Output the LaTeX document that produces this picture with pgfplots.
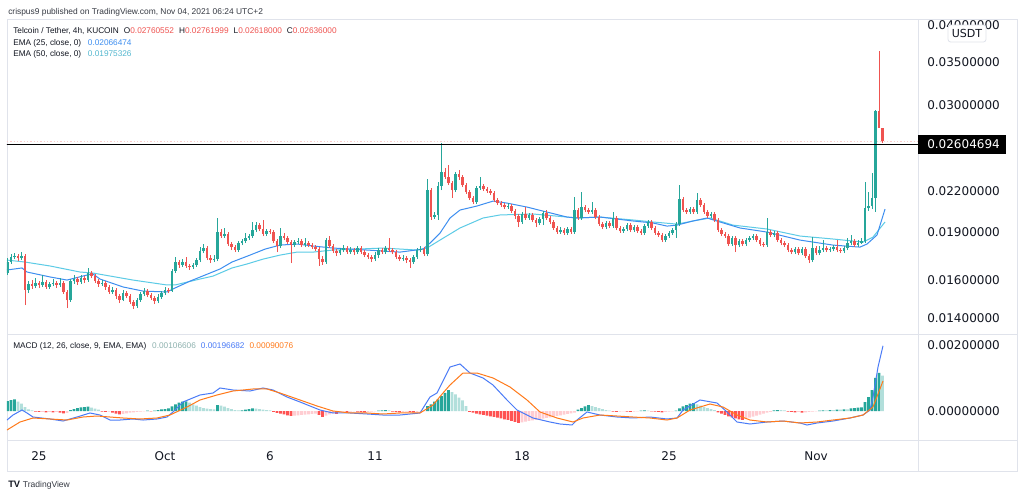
\documentclass[border=0pt]{standalone}
\usepackage{fontspec}
\setmainfont{Liberation Sans}
\newfontfamily\dejavu{DejaVu Sans}
\usepackage{pgfplots}
\pgfplotsset{compat=1.18}
\usepackage{pgfplotstable}
\definecolor{cgreen}{HTML}{26A69A}
\definecolor{cred}{HTML}{EF5350}
\definecolor{hdg}{HTML}{26A69A}
\definecolor{hlg}{HTML}{B2DFDB}
\definecolor{hrd}{HTML}{FF5252}
\definecolor{hpk}{HTML}{FFCDD2}
\definecolor{macdc}{HTML}{4A7BF7}
\definecolor{sigc}{HTML}{FF7A1A}
\definecolor{ema1}{HTML}{3D8EF0}
\definecolor{ema2}{HTML}{5CCBE6}
\definecolor{framec}{HTML}{E0E3EB}
\definecolor{tvtext}{HTML}{131722}
\newcommand\tickfont{\dejavu\fontsize{9}{10}\selectfont}
\newcommand\legfont{\fontsize{6.2}{7}\selectfont}

\pgfplotstableread{
k o h l c
-9 .01643 .01733 .01631 .01709
-8 .01709 .01758 .01697 .01740
-7 .01740 .01765 .01727 .01746
-6 .01746 .01758 .01715 .01733
-5 .01733 .01771 .01721 .01746
-4 .01746 .01758 .01465 .01546
-3 .01546 .01596 .01529 .01580
-2 .01580 .01602 .01552 .01568
-1 .01568 .01614 .01557 .01585
0 .01585 .01596 .01557 .01574
1 .01574 .01631 .01563 .01591
2 .01591 .01602 .01552 .01563
3 .01563 .01591 .01552 .01580
4 .01580 .01608 .01568 .01585
5 .01585 .01596 .01557 .01574
6 .01574 .01614 .01563 .01585
7 .01585 .01596 .01524 .01535
8 .01535 .01546 .01449 .01491
9 .01491 .01608 .01481 .01596
10 .01596 .01631 .01580 .01608
11 .01608 .01620 .01574 .01591
12 .01591 .01631 .01580 .01614
13 .01614 .01625 .01585 .01602
14 .01602 .01673 .01591 .01643
15 .01643 .01655 .01614 .01625
16 .01625 .01637 .01585 .01596
17 .01596 .01608 .01563 .01580
18 .01580 .01602 .01568 .01585
19 .01585 .01596 .01546 .01563
20 .01563 .01574 .01524 .01535
21 .01535 .01563 .01524 .01546
22 .01546 .01557 .01496 .01513
23 .01513 .01524 .01475 .01491
24 .01491 .01546 .01486 .01529
25 .01529 .01540 .01502 .01513
26 .01513 .01524 .01470 .01481
27 .01481 .01491 .01444 .01460
28 .01460 .01502 .01449 .01491
29 .01491 .01535 .01481 .01524
30 .01524 .01557 .01513 .01540
31 .01540 .01552 .01507 .01518
32 .01518 .01529 .01491 .01502
33 .01502 .01513 .01470 .01486
34 .01486 .01524 .01475 .01507
35 .01507 .01540 .01496 .01529
36 .01529 .01563 .01518 .01546
37 .01546 .01557 .01529 .01540
38 .01540 .01667 .01535 .01655
39 .01655 .01740 .01643 .01709
40 .01709 .01721 .01673 .01691
41 .01691 .01727 .01679 .01709
42 .01709 .01740 .01673 .01685
43 .01685 .01697 .01661 .01679
44 .01679 .01703 .01667 .01691
45 .01691 .01733 .01679 .01721
46 .01721 .01803 .01709 .01778
47 .01778 .01823 .01765 .01797
48 .01797 .01810 .01721 .01733
49 .01733 .01752 .01703 .01721
50 .01721 .01752 .01709 .01727
51 .01727 .02001 .01715 .01903
52 .01903 .01924 .01863 .01876
53 .01876 .01931 .01863 .01890
54 .01890 .01903 .01810 .01823
55 .01823 .01836 .01784 .01803
56 .01803 .01816 .01771 .01784
57 .01784 .01842 .01771 .01829
58 .01829 .01856 .01816 .01842
59 .01842 .01897 .01829 .01863
60 .01863 .01890 .01849 .01876
61 .01876 .01973 .01863 .01917
62 .01917 .01973 .01903 .01951
63 .01951 .01965 .01910 .01924
64 .01924 .01987 .01876 .01890
65 .01890 .01924 .01876 .01910
66 .01910 .01924 .01890 .01903
67 .01903 .01917 .01829 .01842
68 .01842 .01856 .01771 .01810
69 .01810 .01931 .01797 .01876
70 .01876 .01897 .01849 .01863
71 .01863 .01876 .01823 .01836
72 .01836 .01849 .01703 .01816
73 .01816 .01849 .01803 .01836
74 .01836 .01863 .01823 .01842
75 .01842 .01856 .01803 .01816
76 .01816 .01863 .01803 .01829
77 .01829 .01842 .01803 .01816
78 .01816 .01829 .01790 .01803
79 .01803 .01816 .01778 .01790
80 .01790 .01803 .01685 .01727
81 .01727 .01746 .01691 .01709
82 .01709 .01863 .01697 .01849
83 .01849 .01876 .01797 .01810
84 .01810 .01823 .01765 .01778
85 .01778 .01790 .01746 .01765
86 .01765 .01797 .01752 .01784
87 .01784 .01816 .01771 .01797
88 .01797 .01810 .01758 .01771
89 .01771 .01803 .01758 .01784
90 .01784 .01797 .01752 .01771
91 .01771 .01810 .01758 .01797
92 .01797 .01810 .01758 .01771
93 .01771 .01784 .01740 .01752
94 .01752 .01765 .01727 .01740
95 .01740 .01752 .01709 .01727
96 .01727 .01771 .01715 .01752
97 .01752 .01797 .01733 .01784
98 .01784 .01797 .01758 .01771
99 .01771 .01810 .01758 .01797
100 .01797 .01863 .01771 .01784
101 .01784 .01797 .01758 .01771
102 .01771 .01784 .01727 .01740
103 .01740 .01752 .01715 .01727
104 .01727 .01752 .01715 .01733
105 .01733 .01746 .01703 .01721
106 .01721 .01733 .01673 .01709
107 .01709 .01752 .01697 .01740
108 .01740 .01797 .01727 .01784
109 .01784 .01810 .01771 .01790
110 .01790 .01803 .01746 .01758
111 .01758 .02301 .01746 .02212
112 .02212 .02228 .01987 .02009
113 .02009 .02045 .01994 .02023
114 .02023 .02277 .01987 .02244
115 .02244 .02618 .02212 .02360
116 .02360 .02394 .02301 .02318
117 .02318 .02420 .02252 .02268
118 .02268 .02285 .02150 .02212
119 .02212 .02360 .02196 .02343
120 .02343 .02377 .02293 .02318
121 .02318 .02334 .02236 .02252
122 .02252 .02268 .02181 .02196
123 .02196 .02212 .02134 .02150
124 .02150 .02165 .02104 .02119
125 .02119 .02244 .02104 .02228
126 .02228 .02318 .02212 .02244
127 .02244 .02260 .02204 .02220
128 .02220 .02236 .02189 .02204
129 .02204 .02220 .02173 .02189
130 .02189 .02204 .02119 .02134
131 .02134 .02150 .02096 .02111
132 .02111 .02126 .02081 .02096
133 .02096 .02111 .02066 .02081
134 .02081 .02111 .02066 .02089
135 .02089 .02104 .02037 .02052
136 .02052 .02066 .01994 .02016
137 .02016 .02030 .01937 .01973
138 .01973 .02045 .01958 .02030
139 .02030 .02081 .01987 .02001
140 .02001 .02037 .01987 .02023
141 .02023 .02037 .01973 .01987
142 .01987 .02001 .01937 .01965
143 .01965 .02009 .01951 .01994
144 .01994 .02052 .01951 .02037
145 .02037 .02059 .01987 .02001
146 .02001 .02016 .01958 .01973
147 .01973 .01987 .01917 .01931
148 .01931 .01944 .01890 .01903
149 .01903 .01937 .01890 .01917
150 .01917 .01931 .01883 .01897
151 .01897 .01937 .01883 .01924
152 .01924 .01937 .01890 .01903
153 .01903 .02157 .01890 .02059
154 .02059 .02074 .01987 .02001
155 .02001 .02196 .01987 .02081
156 .02081 .02096 .02045 .02059
157 .02059 .02074 .02030 .02045
158 .02045 .02119 .02030 .02059
159 .02059 .02074 .01994 .02009
160 .02009 .02023 .01944 .01958
161 .01958 .01973 .01924 .01937
162 .01937 .01980 .01924 .01965
163 .01965 .01980 .01931 .01944
164 .01944 .02045 .01931 .02001
165 .02001 .02016 .01917 .01931
166 .01931 .01944 .01897 .01910
167 .01910 .01937 .01897 .01924
168 .01924 .01965 .01910 .01951
169 .01951 .01965 .01903 .01917
170 .01917 .01951 .01903 .01937
171 .01937 .01951 .01897 .01910
172 .01910 .01924 .01883 .01897
173 .01897 .01958 .01883 .01944
174 .01944 .01987 .01931 .01973
175 .01973 .01987 .01917 .01931
176 .01931 .01944 .01883 .01897
177 .01897 .01910 .01869 .01883
178 .01883 .01897 .01836 .01849
179 .01849 .01890 .01836 .01876
180 .01876 .01910 .01863 .01897
181 .01897 .01931 .01883 .01917
182 .01917 .01973 .01863 .01958
183 .01958 .02252 .01944 .02142
184 .02142 .02157 .02045 .02059
185 .02059 .02074 .02030 .02045
186 .02045 .02081 .02030 .02066
187 .02066 .02081 .02030 .02045
188 .02045 .02189 .02030 .02134
189 .02134 .02150 .02081 .02096
190 .02096 .02111 .02030 .02045
191 .02045 .02059 .02001 .02016
192 .02016 .02045 .02001 .02030
193 .02030 .02045 .01973 .01987
194 .01987 .02001 .01903 .01917
195 .01917 .01931 .01876 .01890
196 .01890 .01903 .01863 .01876
197 .01876 .01890 .01810 .01823
198 .01823 .01876 .01810 .01863
199 .01863 .01876 .01771 .01816
200 .01816 .01856 .01803 .01842
201 .01842 .01856 .01810 .01823
202 .01823 .01863 .01810 .01849
203 .01849 .01876 .01836 .01863
204 .01863 .01890 .01849 .01876
205 .01876 .01890 .01836 .01849
206 .01849 .01863 .01810 .01823
207 .01823 .01836 .01803 .01816
208 .01816 .02001 .01803 .01903
209 .01903 .01917 .01869 .01883
210 .01883 .01910 .01869 .01897
211 .01897 .01910 .01836 .01849
212 .01849 .01863 .01816 .01829
213 .01829 .01842 .01803 .01816
214 .01816 .01829 .01771 .01784
215 .01784 .01797 .01758 .01771
216 .01771 .01803 .01758 .01790
217 .01790 .01803 .01752 .01765
218 .01765 .01803 .01752 .01790
219 .01790 .01803 .01733 .01746
220 .01746 .01758 .01703 .01721
221 .01721 .01869 .01709 .01797
222 .01797 .01810 .01752 .01765
223 .01765 .01810 .01752 .01784
224 .01784 .01849 .01771 .01797
225 .01797 .01810 .01771 .01784
226 .01784 .01803 .01771 .01790
227 .01790 .01816 .01778 .01803
228 .01803 .01849 .01771 .01784
229 .01784 .01797 .01765 .01778
230 .01778 .01810 .01765 .01797
231 .01797 .01863 .01784 .01829
232 .01829 .01883 .01816 .01842
233 .01842 .01856 .01803 .01816
234 .01816 .01849 .01803 .01829
235 .01829 .01863 .01823 .01842
236 .01842 .02277 .01829 .02074
237 .02074 .02196 .02052 .02089
238 .02089 .02351 .02066 .02150
239 .02150 .02947 .02045 .02936
240 .02936 .03641 .02915 .02763
241 .02760552 .02761999 .02618 .02636
}\candles

\pgfplotstableread{
k v s
-9 0.00030 1
-8 0.00033 1
-7 0.00035 1
-6 0.00028 2
-5 0.00022 2
-4 0.00012 2
-3 0.00005 2
-2 0.00002 2
-1 -0.00002 3
0 -0.00003 3
1 -0.00003 4
2 -0.00004 3
3 -0.00003 4
4 -0.00004 3
5 -0.00003 4
6 -0.00005 3
7 -0.00007 3
8 -0.00006 4
9 0.00003 1
10 0.00006 1
11 0.00009 1
12 0.00011 1
13 0.00012 1
14 0.00013 1
15 0.00010 2
16 0.00007 2
17 0.00004 2
18 -0.00002 3
19 -0.00003 3
20 -0.00002 4
21 -0.00005 3
22 -0.00008 3
23 -0.00010 3
24 -0.00009 4
25 -0.00007 4
26 -0.00005 4
27 -0.00004 4
28 -0.00003 4
29 -0.00002 4
30 -0.00001 4
31 0.00001 1
32 -0.00001 3
33 0.00001 1
34 0.00003 1
35 0.00005 1
36 0.00006 1
37 0.00008 1
38 0.00014 1
39 0.00020 1
40 0.00025 1
41 0.00028 1
42 0.00029 1
43 0.00025 2
44 0.00020 2
45 0.00016 2
46 0.00012 2
47 0.00009 2
48 0.00007 2
49 0.00006 2
50 0.00005 2
51 0.00018 1
52 0.00016 2
53 0.00013 2
54 0.00009 2
55 0.00006 2
56 0.00003 2
57 0.00002 2
58 0.00002 1
59 0.00004 1
60 0.00006 1
61 0.00008 1
62 0.00007 2
63 0.00006 2
64 0.00004 2
65 0.00003 2
66 0.00002 2
67 -0.00003 3
68 -0.00006 3
69 -0.00008 3
70 -0.00010 3
71 -0.00013 3
72 -0.00015 3
73 -0.00014 4
74 -0.00013 4
75 -0.00012 4
76 -0.00011 4
77 -0.00010 4
78 -0.00009 4
79 -0.00008 4
80 -0.00012 3
81 -0.00018 3
82 -0.00014 4
83 -0.00010 4
84 -0.00008 4
85 -0.00009 3
86 -0.00003 4
87 -0.00002 4
88 -0.00003 3
89 -0.00002 4
90 -0.00001 4
91 -0.00002 3
92 -0.00003 3
93 -0.00004 3
94 -0.00003 4
95 -0.00002 4
96 -0.00001 4
97 0.00001 1
98 0.00002 1
99 0.00003 1
100 0.00002 2
101 -0.00002 3
102 -0.00003 3
103 -0.00004 3
104 -0.00003 4
105 -0.00002 4
106 -0.00003 3
107 -0.00004 3
108 -0.00003 4
109 -0.00001 4
110 -0.00001 4
111 0.00015 1
112 0.00020 1
113 0.00028 1
114 0.00035 1
115 0.00045 1
116 0.00055 1
117 0.00063 1
118 0.00057 2
119 0.00050 2
120 0.00040 2
121 0.00032 2
122 0.00015 2
123 -0.00003 3
124 -0.00005 3
125 -0.00008 3
126 -0.00010 3
127 -0.00012 3
128 -0.00014 3
129 -0.00016 3
130 -0.00018 3
131 -0.00020 3
132 -0.00022 3
133 -0.00025 3
134 -0.00027 3
135 -0.00030 3
136 -0.00033 3
137 -0.00036 3
138 -0.00034 4
139 -0.00032 4
140 -0.00030 4
141 -0.00028 4
142 -0.00027 4
143 -0.00025 4
144 -0.00023 4
145 -0.00021 4
146 -0.00019 4
147 -0.00017 4
148 -0.00015 4
149 -0.00013 4
150 -0.00011 4
151 -0.00009 4
152 -0.00007 4
153 -0.00005 4
154 0.00004 1
155 0.00009 1
156 0.00014 1
157 0.00018 1
158 0.00015 2
159 0.00012 2
160 0.00009 2
161 0.00006 2
162 0.00003 2
163 0.00001 2
164 -0.00002 3
165 -0.00003 3
166 -0.00002 4
167 -0.00001 4
168 -0.00002 3
169 -0.00003 3
170 -0.00002 4
171 -0.00001 4
172 0.00001 1
173 0.00002 1
174 0.00001 2
175 -0.00001 3
176 -0.00002 3
177 -0.00003 3
178 -0.00004 3
179 -0.00003 4
180 -0.00002 4
181 -0.00001 4
182 0.00001 1
183 0.00008 1
184 0.00014 1
185 0.00018 1
186 0.00022 1
187 0.00024 1
188 0.00020 2
189 0.00016 2
190 0.00012 2
191 0.00009 2
192 0.00006 2
193 0.00003 2
194 -0.00004 3
195 -0.00008 3
196 -0.00012 3
197 -0.00016 3
198 -0.00019 3
199 -0.00022 3
200 -0.00025 3
201 -0.00027 3
202 -0.00024 4
203 -0.00020 4
204 -0.00017 4
205 -0.00014 4
206 -0.00011 4
207 -0.00008 4
208 -0.00005 4
209 -0.00003 4
210 0.00002 1
211 0.00003 1
212 0.00003 2
213 0.00002 2
214 -0.00002 3
215 -0.00003 3
216 -0.00004 3
217 -0.00003 4
218 -0.00005 3
219 -0.00004 4
220 -0.00003 4
221 -0.00002 4
222 -0.00001 4
223 0.00001 1
224 0.00002 1
225 0.00002 2
226 0.00003 1
227 0.00003 2
228 0.00004 1
229 0.00004 2
230 0.00005 1
231 0.00005 2
232 0.00008 1
233 0.00009 1
234 0.00010 1
235 0.00011 1
236 0.00027 1
237 0.00042 1
238 0.00063 1
239 0.00100 1
240 0.00115 1
241 0.00107 2
}\hist

\pgfplotsset{tvaxis/.style={scale only axis, width=683.25pt,
  xmin=-1.5238, xmax=41.857, axis line style={draw=none},
  major tick length=0pt, tick style={draw=none},
  scaled y ticks=false, scaled x ticks=false,
  yticklabel pos=right,
  yticklabel style={anchor=west, inner sep=0pt, xshift=6.75pt, font=\tickfont, text=tvtext},
  xticklabel style={anchor=north, inner sep=0pt, yshift=-8.25pt, font=\tickfont, text=tvtext}}}

\begin{document}
\begin{tikzpicture}
\path[use as bounding box, fill=white] (0,0) rectangle (768pt,-372pt);
% frame
\draw[framec, line width=0.75pt] (5.25pt,-14.25pt) rectangle (762.75pt,-353.25pt);
\draw[framec, line width=0.75pt] (688.5pt,-14.25pt) -- (688.5pt,-353.25pt);
\draw[framec, line width=0.75pt] (5.25pt,-250.5pt) -- (762.75pt,-250.5pt);
\draw[framec, line width=0.75pt] (5.25pt,-330pt) -- (762.75pt,-330pt);

% price pane
\begin{axis}[tvaxis, at={(5.25pt,-14.25pt)}, anchor=north west, height=236.25pt,
  ymode=log, ymin=0.013203, ymax=0.040834, xtick=\empty,
  ytick={0.014,0.016,0.019,0.022,0.03,0.035,0.04},
  yticklabels={0.01400000,0.01600000,0.01900000,0.02200000,0.03000000,0.03500000,0.04000000}]
% EMA 50
\addplot[ema2, line width=0.75pt, mark=none] coordinates {
(-1.524,0.01721) (-0.667,0.01709) (0.524,0.01685) (1.952,0.01649) (2.571,0.01643)
(4.476,0.01602) (6.095,0.01574) (6.476,0.01574) (7.667,0.01608) (8.286,0.01625)
(9.190,0.01673) (9.905,0.01697) (10.667,0.01727) (11.476,0.01752) (12.286,0.01771)
(13.048,0.01771) (14.0,0.01784) (16.381,0.01797) (18.0,0.01784) (18.476,0.01797)
(19.095,0.01849) (20.048,0.01931) (21.143,0.02001) (21.952,0.02023) (23.524,0.02030)
(25.143,0.02008) (25.619,0.02001) (26.714,0.02008) (28.286,0.01987) (29.238,0.01973)
(30.381,0.01958) (31.143,0.01980) (31.952,0.02001) (33.048,0.01951) (34.667,0.01924)
(36.238,0.01876) (37.810,0.01856) (39.238,0.01836) (39.714,0.01869) (40.286,0.01973)};
% EMA 25
\addplot[ema1, line width=0.75pt, mark=none] coordinates {
(-1.524,0.01661) (-0.810,0.01673) (-0.571,0.01649) (0.524,0.01620) (1.333,0.01602)
(2.286,0.01631) (2.571,0.01637) (2.905,0.01608) (4.0,0.01563) (4.952,0.01540)
(6.095,0.01535) (6.476,0.01557) (7.190,0.01596) (7.905,0.01631) (8.619,0.01667)
(9.190,0.01709) (10.048,0.01752) (10.762,0.01790) (11.476,0.01816) (12.286,0.01823)
(13.048,0.01810) (14.0,0.01797) (15.619,0.01784) (17.190,0.01771) (18.286,0.01790)
(18.619,0.01829) (19.095,0.01896) (19.571,0.02001) (20.048,0.02059) (20.857,0.02089)
(21.619,0.02126) (22.286,0.02111) (23.238,0.02081) (24.190,0.02044) (25.143,0.02008)
(25.619,0.02001) (26.714,0.02008) (28.286,0.01980) (29.238,0.01966) (29.905,0.01944)
(30.381,0.01951) (31.143,0.01980) (31.810,0.02001) (32.429,0.01973) (33.381,0.01931)
(34.667,0.01903) (36.238,0.01849) (37.810,0.01816) (39.095,0.01803) (39.429,0.01823)
(39.905,0.01883) (40.286,0.02066)};
% current price line
\addplot[cred!30, dash pattern=on 1pt off 1.5pt, line width=0.5pt, mark=none] coordinates {(-2,0.02636) (43,0.02636)};
% wicks
\addplot[draw=none, mark=none, forget plot, restrict expr to domain={\thisrow{c}-\thisrow{o}}{0:1},
  error bars/.cd, y dir=plus, y explicit, error mark=none,
  error bar style={draw=cgreen, line width=0.7pt}]
  table[x expr=\thisrow{k}/6, y=l, y error plus expr={\thisrow{h}-\thisrow{l}}] {\candles};
\addplot[draw=none, mark=none, forget plot, restrict expr to domain={\thisrow{c}-\thisrow{o}}{-1:0},
  error bars/.cd, y dir=plus, y explicit, error mark=none,
  error bar style={draw=cred, line width=0.7pt}]
  table[x expr=\thisrow{k}/6, y=l, y error plus expr={\thisrow{h}-\thisrow{l}}] {\candles};
% bodies
\addplot[draw=none, mark=none, forget plot, restrict expr to domain={\thisrow{c}-\thisrow{o}}{0:1},
  error bars/.cd, y dir=plus, y explicit, error mark=none,
  error bar style={draw=cgreen, line width=2pt}]
  table[x expr=\thisrow{k}/6, y expr={min(\thisrow{o},\thisrow{c})}, y error plus expr={abs(\thisrow{c}-\thisrow{o})}] {\candles};
\addplot[draw=none, mark=none, forget plot, restrict expr to domain={\thisrow{c}-\thisrow{o}}{-1:0},
  error bars/.cd, y dir=plus, y explicit, error mark=none,
  error bar style={draw=cred, line width=2pt}]
  table[x expr=\thisrow{k}/6, y expr={min(\thisrow{o},\thisrow{c})}, y error plus expr={abs(\thisrow{c}-\thisrow{o})}] {\candles};
% horizontal level
\addplot[black, line width=1.05pt, mark=none] coordinates {(-2,0.02604694) (43,0.02604694)};
\end{axis}

% MACD pane
\begin{axis}[tvaxis, at={(5.25pt,-250.5pt)}, anchor=north west, height=79.5pt,
  ymin=-0.000875, ymax=0.002323,
  ytick={0,0.002}, yticklabels={0.00000000,0.00200000},
  xtick={0,6,11,16,23,30,37}, xticklabels={25,Oct,6,11,18,25,Nov}]
\addplot[ybar, bar width=2.1pt, bar shift=0pt, fill=hdg, draw=none, restrict expr to domain={\thisrow{s}}{0.5:1.5}]
  table[x expr=\thisrow{k}/6, y=v] {\hist};
\addplot[ybar, bar width=2.1pt, bar shift=0pt, fill=hlg, draw=none, restrict expr to domain={\thisrow{s}}{1.5:2.5}]
  table[x expr=\thisrow{k}/6, y=v] {\hist};
\addplot[ybar, bar width=2.1pt, bar shift=0pt, fill=hrd, draw=none, restrict expr to domain={\thisrow{s}}{2.5:3.5}]
  table[x expr=\thisrow{k}/6, y=v] {\hist};
\addplot[ybar, bar width=2.1pt, bar shift=0pt, fill=hpk, draw=none, restrict expr to domain={\thisrow{s}}{3.5:4.5}]
  table[x expr=\thisrow{k}/6, y=v] {\hist};
% MACD line
\addplot[macdc, line width=0.75pt, mark=none] coordinates {
(-1.524,-0.000272) (-1.238,-0.000121) (-0.810,0.000030) (-0.571,-0.000060) (-0.286,-0.000181)
(0.524,-0.000241) (1.143,-0.000302) (1.810,-0.000181) (2.429,-0.000060) (2.905,-0.000121)
(3.381,-0.000272) (3.857,-0.000272) (4.476,-0.000241) (4.952,-0.000272) (5.619,-0.000241)
(6.095,-0.000181) (6.381,-0.000030) (6.857,0.000272) (7.667,0.000483) (8.286,0.000543)
(8.619,0.000694) (9.238,0.000634) (10.048,0.000603) (10.667,0.000694) (11.143,0.000634)
(11.810,0.000422) (12.429,0.000272) (13.381,0.000030) (14.0,-0.000060) (14.810,-0.000060)
(15.619,-0.000090) (16.381,-0.000121) (17.190,-0.000121) (18.143,-0.000060) (18.619,0.000422)
(18.952,0.000543) (19.429,0.001146) (19.571,0.001327) (20.048,0.001418) (20.524,0.001146)
(21.143,0.000996) (21.619,0.000784) (22.286,0.000332) (22.762,0.000030) (23.524,-0.000211)
(24.333,-0.000332) (24.810,-0.000392) (25.381,-0.000422) (25.619,-0.000272) (26.095,-0.000030)
(26.714,-0.000121) (27.524,-0.000181) (28.286,-0.000211) (29.095,-0.000181) (29.905,-0.000241)
(30.381,-0.000211) (30.667,0.000030) (31.476,0.000332) (32.286,0.000241) (32.762,-0.000030)
(33.238,-0.000332) (33.857,-0.000392) (34.667,-0.000332) (35.429,-0.000302) (36.238,-0.000362)
(36.571,-0.000422) (37.048,-0.000362) (37.810,-0.000302) (38.619,-0.000211) (39.238,-0.000121)
(39.571,0.000030) (39.714,0.000422) (39.952,0.001327) (40.190,0.001967)};
% signal line
\addplot[sigc, line width=0.75pt, mark=none] coordinates {
(-1.524,-0.000573) (-0.905,-0.000332) (-0.286,-0.000211) (0.524,-0.000241) (1.333,-0.000272)
(2.095,-0.000181) (2.762,-0.000151) (3.381,-0.000181) (4.0,-0.000211) (4.810,-0.000241)
(5.619,-0.000211) (6.238,-0.000121) (7.048,0.000121) (7.667,0.000332) (8.476,0.000483)
(9.238,0.000603) (10.190,0.000664) (10.857,0.000664) (11.476,0.000543) (12.429,0.000332)
(13.238,0.000151) (14.0,0.0) (14.810,-0.000060) (15.619,-0.000060) (16.381,-0.000090)
(17.190,-0.000060) (18.143,-0.000060) (18.762,0.000181) (19.238,0.000543) (19.571,0.000784)
(20.190,0.001146) (20.857,0.001146) (21.619,0.000996) (22.429,0.000724) (23.238,0.000332)
(23.857,-0.000030) (24.667,-0.000211) (25.429,-0.000332) (25.905,-0.000211) (26.714,-0.000121)
(27.524,-0.000151) (28.286,-0.000181) (29.095,-0.000211) (29.905,-0.000272) (30.381,-0.000211)
(31.0,0.000030) (31.952,0.000211) (32.571,0.000121) (33.238,-0.000121) (33.857,-0.000272)
(34.667,-0.000332) (35.429,-0.000302) (36.238,-0.000362) (37.048,-0.000332) (37.810,-0.000272)
(38.619,-0.000211) (39.238,-0.000121) (39.714,0.000121) (40.190,0.000905)};
\end{axis}

% price label box
\fill[black] (688.5pt,-101.25pt) rectangle (754.5pt,-115.5pt);
\node[anchor=west, inner sep=0pt, font=\tickfont, text=white] at (695.25pt,-108.4pt) {0.02604694};
% USDT box
\draw[framec, fill=white, rounded corners=2pt, line width=0.6pt] (711pt,-18.75pt) rectangle (739.5pt,-31.5pt);
\node[inner sep=0pt, font=\dejavu\fontsize{8.3}{9}\selectfont, text=tvtext] at (725.25pt,-25.1pt) {USDT};

% header and legends
\node[anchor=base west, inner sep=0pt, font=\fontsize{6.3}{7}\selectfont, text=tvtext!85] at (6pt,-10.5pt)
  {crispus9 published on TradingView.com, Nov 04, 2021 06:24 UTC+2};
\node[anchor=base west, inner sep=0pt, font=\legfont, text=tvtext] at (9.75pt,-24.75pt)
  {Telcoin / Tether, 4h, KUCOIN\hspace{3.75pt}O\textcolor{cred}{0.02760552}\hspace{3.75pt}H\textcolor{cred}{0.02761999}\hspace{3.75pt}L\textcolor{cred}{0.02618000}\hspace{3.75pt}C\textcolor{cred}{0.02636000}};
\node[anchor=base west, inner sep=0pt, font=\legfont, text=tvtext] at (9.75pt,-34.1pt)
  {EMA (25, close, 0)\hspace{5pt}\textcolor{ema1}{0.02066474}};
\node[anchor=base west, inner sep=0pt, font=\legfont, text=tvtext] at (9.75pt,-42pt)
  {EMA (50, close, 0)\hspace{5pt}\textcolor{ema2!90!black}{0.01975326}};
\node[anchor=base west, inner sep=0pt, font=\legfont, text=tvtext] at (9.75pt,-261.5pt)
  {MACD (12, 26, close, 9, EMA, EMA)\hspace{4.3pt}\textcolor{hlg!80!black}{0.00106606}\hspace{3.75pt}\textcolor{macdc}{0.00196682}\hspace{3.75pt}\textcolor{sigc}{0.00090076}};
% logo
\node[anchor=base west, inner sep=0pt, font=\bfseries\fontsize{7}{8}\selectfont, text=tvtext] at (6pt,-365.25pt) {TV};
\node[anchor=base west, inner sep=0pt, font=\fontsize{6.4}{7}\selectfont, text=tvtext!85] at (17pt,-365.25pt) {TradingView};
\end{tikzpicture}
\end{document}
